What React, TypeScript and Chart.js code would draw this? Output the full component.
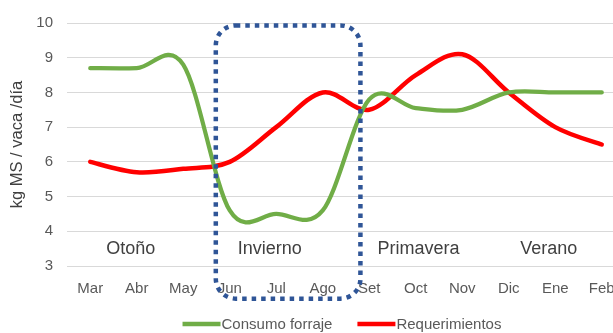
import { useEffect, useRef } from "react";
import { Chart, registerables } from "chart.js";

Chart.register(...registerables);

// ---- data ----
const months = ["Mar", "Abr", "May", "Jun", "Jul", "Ago", "Set", "Oct", "Nov", "Dic", "Ene", "Feb"];
const consumoForraje = [8.7, 8.7, 8.8, 4.6, 4.5, 4.6, 7.8, 7.55, 7.5, 8.0, 8.0, 8.0];
const requerimientos = [6.0, 5.7, 5.8, 6.0, 7.0, 8.0, 7.5, 8.5, 9.1, 8.0, 7.0, 6.5];
const yTicks = [3, 4, 5, 6, 7, 8, 9, 10];
const seriesNames = ["Consumo forraje", "Requerimientos"];
const yTitle = "kg MS / vaca /día";
const seasonLabels = ["Otoño", "Invierno", "Primavera", "Verano"];
// anchors in data units (category index, value)
const seasonIndex = [0.87, 3.86, 7.06, 9.86];
const seasonValue = 3.5;
const winterFrom = 2.7;
const winterTo = 5.81;
const winterTop = 9.93;
const winterBottom = 2.06;

// ---- styles ----
const GREEN = "#70AD47";
const RED = "#FF0000";
const BLUE = "#2F5597";
const FONT = "'Liberation Sans', Arial, sans-serif";
const TEXT = "#595959";

const excelSmooth = {
  id: "excelSmooth",
  beforeDatasetsDraw(chart: any) {
    chart.data.datasets.forEach((_: any, i: number) => {
      const meta = chart.getDatasetMeta(i);
      const line: any = meta.dataset;
      if (!line) return;
      line.updateControlPoints(chart.chartArea, "x");
      const pts: any[] = meta.data as any[];
      for (let k = 0; k < pts.length; k++) {
        const p = pts[k];
        const prev = pts[k - 1] || p;
        const next = pts[k + 1] || p;
        const dx = (next.x - prev.x) / 6;
        const dy = (next.y - prev.y) / 6;
        p.cp1x = p.x - dx;
        p.cp1y = p.y - dy;
        p.cp2x = p.x + dx;
        p.cp2y = p.y + dy;
      }
      line._path = undefined;
    });
  },
};

const decorations = {
  id: "decorations",
  afterDatasetsDraw(chart: any) {
    const { ctx, chartArea } = chart;
    const xs = chart.scales.x;
    const ys = chart.scales.y;
    ctx.save();
    // season labels
    ctx.fillStyle = "#404040";
    ctx.font = `18px ${FONT}`;
    ctx.textAlign = "center";
    ctx.textBaseline = "middle";
    seasonLabels.forEach((s, i) => {
      ctx.fillText(s, xs.getPixelForValue(seasonIndex[i]), ys.getPixelForValue(seasonValue));
    });
    // winter dotted box
    const l = xs.getPixelForValue(winterFrom);
    const r = xs.getPixelForValue(winterTo);
    const t = ys.getPixelForValue(winterTop);
    const b = ys.getPixelForValue(winterBottom);
    ctx.strokeStyle = BLUE;
    ctx.lineWidth = 4.5;
    ctx.setLineDash([4.5, 5]);
    ctx.lineCap = "butt";
    ctx.beginPath();
    (ctx as any).roundRect(l, t, r - l, b - t, 20);
    ctx.stroke();
    ctx.setLineDash([]);
    // legend
    const colors = [GREEN, RED];
    ctx.font = `15px ${FONT}`;
    ctx.textAlign = "left";
    const lineLen = 38;
    const gap = 25;
    const widths = seriesNames.map((n) => ctx.measureText(n).width);
    const total = widths.reduce((a, w) => a + w + lineLen + 1, 0) + gap;
    let x = (chartArea.left + chartArea.right) / 2 - 4 - total / 2;
    const y = 324;
    seriesNames.forEach((n, i) => {
      ctx.strokeStyle = colors[i];
      ctx.lineWidth = 4.5;
      ctx.beginPath();
      ctx.moveTo(x, y);
      ctx.lineTo(x + lineLen, y);
      ctx.stroke();
      ctx.fillStyle = TEXT;
      ctx.fillText(n, x + lineLen + 1, y + 1);
      x += lineLen + 1 + widths[i] + gap;
    });
    ctx.restore();
  },
};

export default function App() {
  const ref = useRef<HTMLCanvasElement>(null);
  useEffect(() => {
    const chart = new Chart(ref.current as HTMLCanvasElement, {
      type: "line",
      data: {
        labels: months,
        datasets: [
          {
            label: seriesNames[0],
            data: consumoForraje,
            borderColor: GREEN,
            backgroundColor: GREEN,
            borderWidth: 4.25,
            tension: 0.4,
            pointRadius: 0,
            fill: false,
          },
          {
            label: seriesNames[1],
            data: requerimientos,
            borderColor: RED,
            backgroundColor: RED,
            borderWidth: 4.5,
            tension: 0.4,
            pointRadius: 0,
            fill: false,
          },
        ],
      },
      options: {
        animation: false,
        responsive: false,
        devicePixelRatio: 1,
        layout: { padding: { top: 20, right: 5, left: 0, bottom: 0 } },
        plugins: { legend: { display: false }, tooltip: { enabled: false } },
        elements: { line: { capBezierPoints: false, borderCapStyle: "round" } },
        scales: {
          x: {
            type: "category",
            offset: true,
            grid: { display: false, drawTicks: false },
            border: { display: false },
            ticks: {
              color: TEXT,
              font: { family: FONT, size: 15 },
              padding: 14,
              maxRotation: 0,
              autoSkip: false,
            },
            afterFit: (s: any) => {
              s.height = 67;
            },
          },
          y: {
            min: 3,
            max: 10,
            afterBuildTicks: (s: any) => {
              s.ticks = yTicks.map((v) => ({ value: v }));
            },
            ticks: {
              color: TEXT,
              font: { family: FONT, size: 15 },
              padding: 14,
            },
            grid: { color: "#D9D9D9", lineWidth: 1, drawTicks: false },
            border: { display: false },
            title: {
              display: true,
              text: yTitle,
              color: "#404040",
              font: { family: FONT, size: 16.5 },
              padding: { top: 8, bottom: 0 },
            },
            afterFit: (s: any) => {
              s.width = 67;
            },
          },
        },
      },
      plugins: [excelSmooth, decorations],
    } as any);
    return () => chart.destroy();
  }, []);
  return (
    <div
      style={{
        position: "fixed",
        left: 0,
        top: 0,
        width: 613,
        height: 333,
        overflow: "hidden",
        background: "#fff",
      }}
    >
      <canvas ref={ref} width={630} height={333} style={{ display: "block", width: 630, height: 333 }} />
    </div>
  );
}
